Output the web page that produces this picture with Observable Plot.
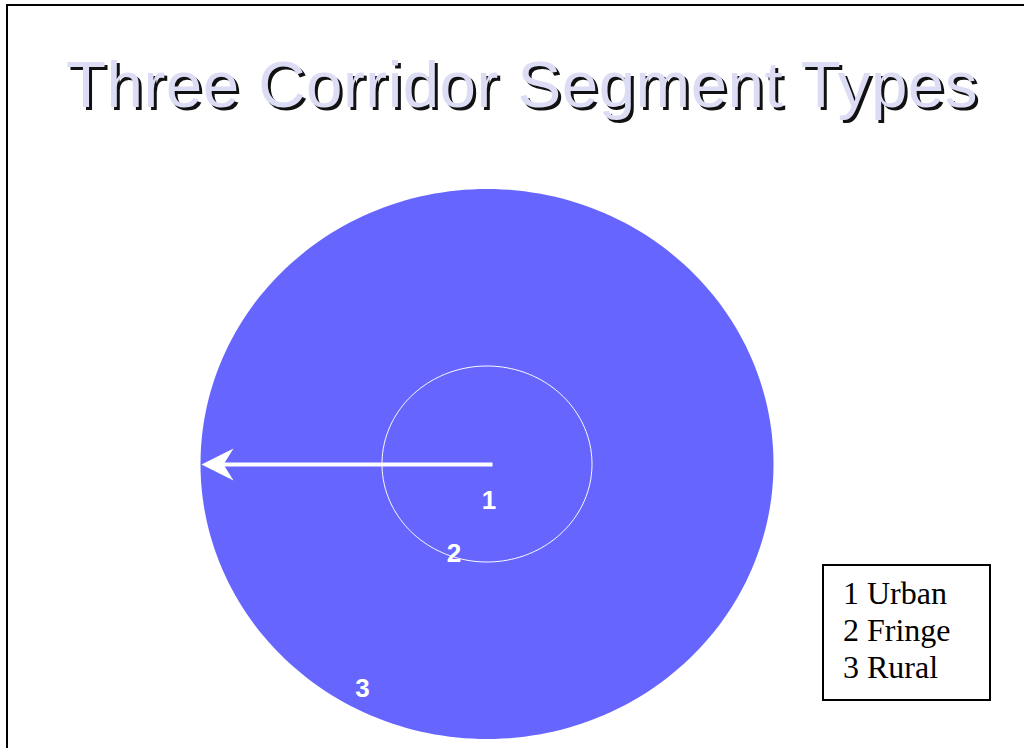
<!DOCTYPE html>
<html>
<head>
<meta charset="utf-8">
<script src="https://cdn.jsdelivr.net/npm/d3@7"></script>
<script src="https://cdn.jsdelivr.net/npm/@observablehq/plot@0.6"></script>
<style>
  html, body { margin: 0; padding: 0; background: #fff; overflow: hidden; width: 1024px; height: 748px; }
  #wrap { position: relative; width: 1024px; height: 748px; }
  #chart { position: absolute; left: 0; top: 0; }
  #frame { position: absolute; left: 6px; top: 4px; width: 1100px; height: 900px; border: 2px solid #000; box-sizing: border-box; pointer-events: none; }
  #title { position: absolute; left: 0; top: 52px; width: 1044px; text-align: center; white-space: nowrap;
           font-family: "Liberation Sans", Arial, sans-serif; font-size: 65.5px; line-height: 65px; letter-spacing: 0.5px;
           color: #dcdcf4; text-shadow: 3px 3px 0 #111; }
  #legend { position: absolute; left: 822px; top: 564px; width: 169px; height: 137px; box-sizing: border-box;
            border: 2px solid #000; background: #fff; padding: 9px 0 0 19px;
            font-family: "Liberation Serif", "Times New Roman", serif; font-size: 32px; line-height: 37px; color: #000; }
</style>
</head>
<body>
<div id="wrap">
  <div id="chart"></div>
  <div id="title">Three Corridor Segment Types</div>
  <div id="legend"></div>
  <div id="frame"></div>
</div>
<script>
// ---- data ----
const segmentIds = [1, 2, 3];
const segmentNames = ["Urban", "Fringe", "Rural"];
// boundary ellipses (horizontal / vertical radii): urban edge, rural (outer) edge
const boundaryRx = [105, 286.5];
const boundaryRy = [98, 275];
// label positions relative to the corridor centre (y up)
const labelX = [2, -33, -124.5];
const labelY = [-36.5, -89.5, -224.5];
// arrow: from centre outward to the outer edge
const arrowStart = 5.5;
const arrowEnd = -285.5;
const arrowY = -0.5;

// ---- derived geometry ----
function ellipse(rx, ry, id) {
  const n = 240;
  return d3.range(n).map(i => {
    const t = (i / n) * 2 * Math.PI;
    return {x: rx * Math.cos(t), y: ry * Math.sin(t), id};
  });
}
const outer = ellipse(boundaryRx[1], boundaryRy[1], "outer");
const inner = ellipse(boundaryRx[0], boundaryRy[0], "inner");
const labels = segmentIds.map((id, i) => ({id, x: labelX[i], y: labelY[i]}));
const headLen = 32, headHalf = 16, notch = 10;
const arrowHead = [
  {x: arrowEnd, y: arrowY},
  {x: arrowEnd + headLen, y: arrowY + headHalf},
  {x: arrowEnd + headLen - notch, y: arrowY},
  {x: arrowEnd + headLen, y: arrowY - headHalf}
];
const arrowShaft = [{x1: arrowStart, x2: arrowEnd + headLen - notch - 2, y: arrowY}];

const chart = Plot.plot({
  width: 1024,
  height: 748,
  margin: 0,
  x: {domain: [-486.5, 537.5], axis: null},
  y: {domain: [-284.5, 463.5], axis: null},
  style: {background: "transparent"},
  marks: [
    Plot.line(outer, {x: "x", y: "y", curve: "linear-closed", fill: "#6666ff", stroke: "none"}),
    Plot.line(inner, {x: "x", y: "y", curve: "linear-closed", fill: "none", stroke: "#ffffff", strokeWidth: 1}),
    Plot.link(arrowShaft, {x1: "x1", x2: "x2", y1: "y", y2: "y", stroke: "#ffffff", strokeWidth: 4}),
    Plot.line(arrowHead, {x: "x", y: "y", curve: "linear-closed", fill: "#ffffff", stroke: "none"}),
    Plot.text(labels, {x: "x", y: "y", text: d => String(d.id), fill: "#ffffff", fontSize: 26, fontWeight: "bold",
                       fontFamily: "Liberation Sans, Arial, sans-serif"})
  ]
});
document.getElementById("chart").appendChild(chart);

const legend = document.getElementById("legend");
segmentIds.forEach((id, i) => {
  const div = document.createElement("div");
  div.textContent = id + " " + segmentNames[i];
  legend.appendChild(div);
});
</script>
</body>
</html>
